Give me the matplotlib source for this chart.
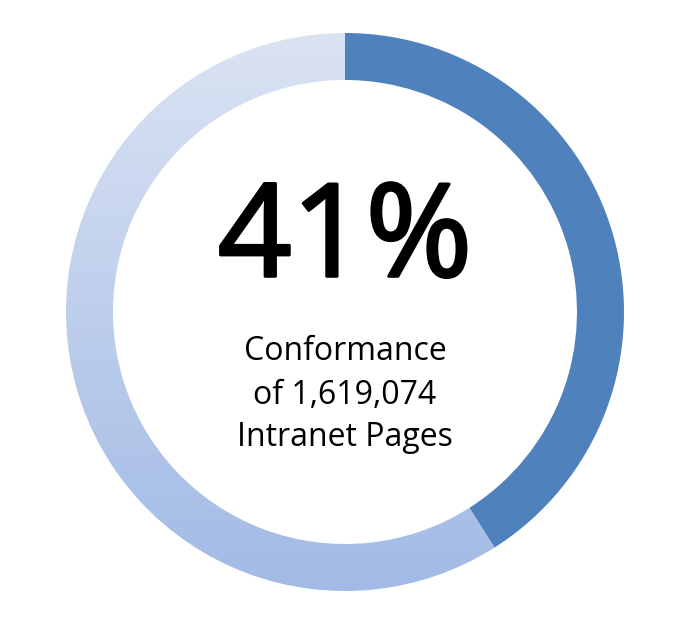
import matplotlib.pyplot as plt
import matplotlib.patheffects as pe
import numpy as np
from matplotlib.colors import LinearSegmentedColormap

# conformance donut
labels = ['Conformant', 'Remaining']
values = [41, 59]
pct_text = '41%'
caption = ['Conformance', 'of 1,619,074', 'Intranet Pages']

dark_blue = '#4f81bd'
light_top = '#dae3f3'
light_bottom = '#a2bae5'

W, H = 696, 624
cx, cy = 345, 624 - 312
r_out = 279
ring = 47

fig = plt.figure(figsize=(W / 100, H / 100), dpi=100)
ax = fig.add_axes([0, 0, 1, 1])
ax.set_xlim(0, W)
ax.set_ylim(0, H)
ax.axis('off')

wedges, _ = ax.pie(values, startangle=90, counterclock=False, radius=r_out,
                   center=(cx, cy), colors=[dark_blue, light_bottom],
                   wedgeprops=dict(width=ring, linewidth=0))
ax.set_xlim(0, W)
ax.set_ylim(0, H)
ax.set_aspect('equal')

# vertical gradient on the remaining part
cmap = LinearSegmentedColormap.from_list('lb', [light_bottom, light_top])
grad = np.linspace(0, 1, 256).reshape(-1, 1)
im = ax.imshow(grad, cmap=cmap, origin='lower', aspect='auto',
               extent=(cx - r_out, cx + r_out, cy - r_out, cy + r_out), zorder=2)
im.set_clip_path(wedges[1])
wedges[1].set_facecolor('none')

font = 'Open Sans'
ax.text(cx, H - 243, pct_text, ha='center', va='center', fontsize=93,
        family=font, color='black', zorder=3,
        path_effects=[pe.withStroke(linewidth=2.2, foreground='black')])
for i, line in enumerate(caption):
    ax.text(cx, H - (352 + i * 43), line, ha='center', va='center',
            fontsize=23, family=font, color='black', zorder=3)

fig.savefig('out.png', dpi=100)
